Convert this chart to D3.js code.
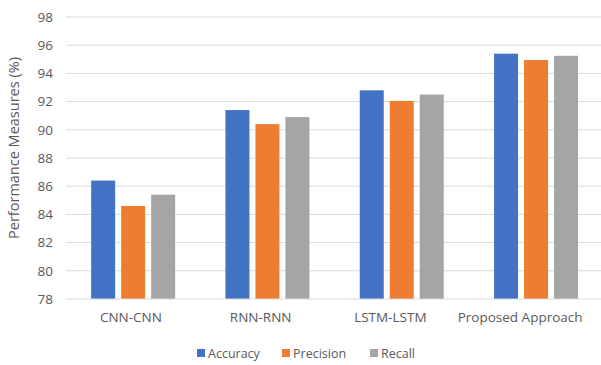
<!DOCTYPE html>
<html>
<head>
<meta charset="utf-8">
<script src="https://cdn.jsdelivr.net/npm/d3@7"></script>
<style>
  html, body { margin: 0; padding: 0; background: #fff; }
  svg { display: block; font-family: "Open Sans", "Noto Sans", sans-serif; }
</style>
</head>
<body>
<svg id="chart" width="601" height="365"></svg>
<script>
// Model comparison: accuracy, precision and recall per architecture
const categories = ["CNN-CNN", "RNN-RNN", "LSTM-LSTM", "Proposed Approach"];
const seriesNames = ["Accuracy", "Precision", "Recall"];
const accuracy  = [86.4, 91.4, 92.8, 95.4];
const precision = [84.6, 90.4, 92.05, 94.95];
const recall    = [85.4, 90.9, 92.5, 95.25];
const yTicks = [78, 80, 82, 84, 86, 88, 90, 92, 94, 96, 98];
const colors = ["#4472C4", "#ED7D31", "#A5A5A5"];

const seriesValues = [accuracy, precision, recall];

const svg = d3.select("#chart");
const plotLeft = 66, plotTop = 17, plotBottom = 299;

const y = d3.scaleLinear().domain([78, 98]).range([plotBottom, plotTop]);

// category bands for the bar groups
const x0 = d3.scaleBand().domain(categories).range([plotLeft, 603.2]).paddingInner(0).paddingOuter(0);
const groupW = 84;
const x1 = d3.scaleBand().domain(seriesNames).range([0, groupW]).paddingInner(0.2).paddingOuter(0);
// category label positions
const xLab = d3.scaleBand().domain(categories).range([plotLeft, 585]);

// gridlines
svg.append("g")
  .selectAll("line")
  .data(yTicks.slice(1))
  .join("line")
  .attr("x1", plotLeft).attr("x2", 601)
  .attr("y1", d => y(d)).attr("y2", d => y(d))
  .attr("stroke", "#d9d9d9").attr("stroke-width", 1);

// y axis tick labels
const yAxis = d3.axisLeft(y).tickValues(yTicks).tickSize(0).tickPadding(13);
const gy = svg.append("g").attr("transform", `translate(${plotLeft},0)`).call(yAxis);
gy.select(".domain").remove();
gy.selectAll("text").attr("fill", "#595959").style("font-size", "13.5px")
  .style("font-family", "'Open Sans', sans-serif");

// bars
const groups = svg.append("g").selectAll("g")
  .data(categories)
  .join("g")
  .attr("transform", d => `translate(${x0(d) + (x0.bandwidth() - groupW) / 2},0)`);

groups.selectAll("rect")
  .data((d, i) => seriesNames.map((s, j) => ({ s, v: seriesValues[j][i], j })))
  .join("rect")
  .attr("x", d => x1(d.s))
  .attr("width", x1.bandwidth())
  .attr("y", d => y(d.v))
  .attr("height", d => y(78) - y(d.v))
  .attr("fill", d => colors[d.j]);

// x axis line
svg.append("line")
  .attr("x1", plotLeft).attr("x2", 601)
  .attr("y1", y(78)).attr("y2", y(78))
  .attr("stroke", "#d9d9d9").attr("stroke-width", 1);

// category labels
const xAxis = d3.axisBottom(xLab).tickSize(0).tickPadding(13);
const gx = svg.append("g").attr("transform", `translate(0,${y(78)})`).call(xAxis);
gx.select(".domain").remove();
gx.selectAll("text").attr("fill", "#595959").style("font-size", "13.5px")
  .style("font-family", "'Open Sans', sans-serif");

// y axis title
svg.append("text")
  .attr("transform", `translate(19,148) rotate(-90)`)
  .attr("text-anchor", "middle")
  .attr("fill", "#595959")
  .style("font-size", "14.5px")
  .text("Performance Measures (%)");

// legend
const legendX = [197, 282, 370];
const legend = svg.append("g").selectAll("g")
  .data(seriesNames)
  .join("g")
  .attr("transform", (d, i) => `translate(${legendX[i]},349)`);
legend.append("rect").attr("width", 8).attr("height", 8).attr("fill", (d, i) => colors[i]);
legend.append("text")
  .attr("x", 11).attr("y", 8.5)
  .attr("fill", "#595959")
  .style("font-size", "12.5px")
  .text(d => d);
</script>
</body>
</html>
